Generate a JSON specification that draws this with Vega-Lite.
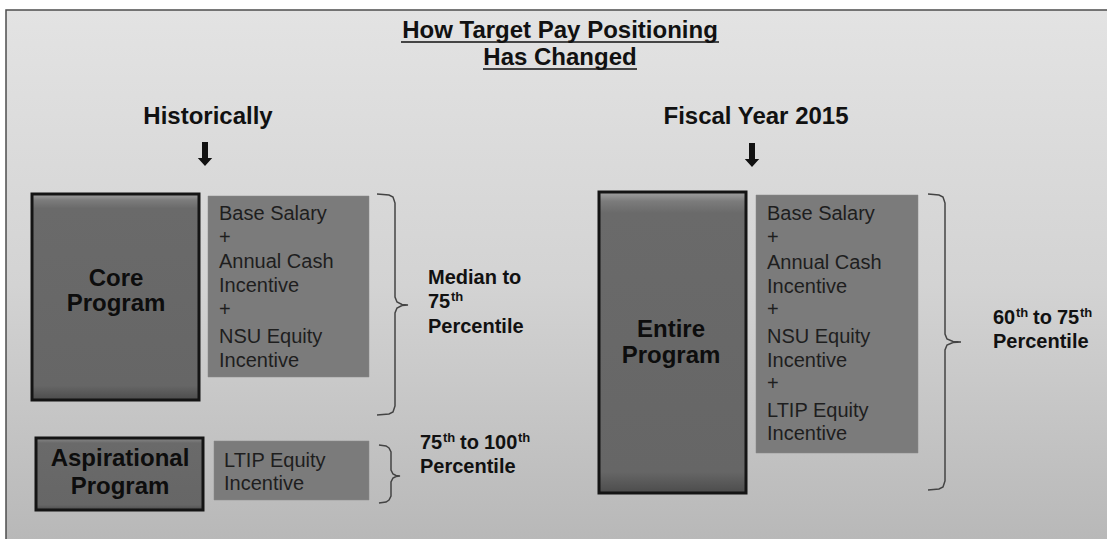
{
  "$schema": "https://vega.github.io/schema/vega-lite/v6.json",
  "width": 1107,
  "height": 539,
  "autosize": {"type": "fit", "contains": "padding"},
  "padding": 0,
  "background": "#ffffff",
  "config": {"view": {"stroke": null}},
  "datasets": {
    "frame": [{"x": 6, "x2": 1130, "y": 10, "y2": 560}],
    "programs": [
      {"name": "Core Program", "x": 32, "x2": 199, "y": 194, "y2": 400},
      {"name": "Entire Program", "x": 599, "x2": 746, "y": 192, "y2": 493},
      {"name": "Aspirational Program", "x": 36, "x2": 203, "y": 438, "y2": 510}
    ],
    "items": [
      {"name": "Core components", "x": 208, "x2": 369, "y": 196, "y2": 377},
      {"name": "Entire components", "x": 756, "x2": 918, "y": 195, "y2": 453},
      {"name": "Aspirational components", "x": 214, "x2": 369, "y": 441, "y2": 500}
    ],
    "underlines": [
      {"line": "How Target Pay Positioning", "x": 401, "x2": 719, "y": 42},
      {"line": "Has Changed", "x": 483, "x2": 637, "y": 69}
    ],
    "arrows": [
      {"column": "Historically", "x": 205, "y": 154},
      {"column": "Fiscal Year 2015", "x": 752, "y": 155}
    ],
    "braces": [
      {"brace": "core", "order": 1, "x": 377, "y": 194},
      {"brace": "core", "order": 2, "x": 389, "y": 195},
      {"brace": "core", "order": 3, "x": 393, "y": 197},
      {"brace": "core", "order": 4, "x": 395, "y": 203},
      {"brace": "core", "order": 5, "x": 395, "y": 297},
      {"brace": "core", "order": 6, "x": 397, "y": 302},
      {"brace": "core", "order": 7, "x": 402, "y": 304.5},
      {"brace": "core", "order": 8, "x": 408, "y": 305},
      {"brace": "core", "order": 9, "x": 402, "y": 305.5},
      {"brace": "core", "order": 10, "x": 397, "y": 308},
      {"brace": "core", "order": 11, "x": 395, "y": 313},
      {"brace": "core", "order": 12, "x": 395, "y": 406},
      {"brace": "core", "order": 13, "x": 393, "y": 412},
      {"brace": "core", "order": 14, "x": 389, "y": 414},
      {"brace": "core", "order": 15, "x": 377, "y": 415},
      {"brace": "asp", "order": 1, "x": 379, "y": 445},
      {"brace": "asp", "order": 2, "x": 386, "y": 446},
      {"brace": "asp", "order": 3, "x": 389, "y": 448},
      {"brace": "asp", "order": 4, "x": 391, "y": 452},
      {"brace": "asp", "order": 5, "x": 391, "y": 470},
      {"brace": "asp", "order": 6, "x": 393, "y": 474},
      {"brace": "asp", "order": 7, "x": 396, "y": 475.5},
      {"brace": "asp", "order": 8, "x": 400, "y": 476},
      {"brace": "asp", "order": 9, "x": 396, "y": 476.5},
      {"brace": "asp", "order": 10, "x": 393, "y": 478},
      {"brace": "asp", "order": 11, "x": 391, "y": 482},
      {"brace": "asp", "order": 12, "x": 391, "y": 496},
      {"brace": "asp", "order": 13, "x": 389, "y": 500},
      {"brace": "asp", "order": 14, "x": 386, "y": 502},
      {"brace": "asp", "order": 15, "x": 379, "y": 503},
      {"brace": "entire", "order": 1, "x": 928, "y": 194},
      {"brace": "entire", "order": 2, "x": 939, "y": 195},
      {"brace": "entire", "order": 3, "x": 943, "y": 197},
      {"brace": "entire", "order": 4, "x": 945, "y": 203},
      {"brace": "entire", "order": 5, "x": 945, "y": 334},
      {"brace": "entire", "order": 6, "x": 947, "y": 339},
      {"brace": "entire", "order": 7, "x": 953, "y": 341.5},
      {"brace": "entire", "order": 8, "x": 961, "y": 342},
      {"brace": "entire", "order": 9, "x": 953, "y": 342.5},
      {"brace": "entire", "order": 10, "x": 947, "y": 345},
      {"brace": "entire", "order": 11, "x": 945, "y": 350},
      {"brace": "entire", "order": 12, "x": 945, "y": 481},
      {"brace": "entire", "order": 13, "x": 943, "y": 487},
      {"brace": "entire", "order": 14, "x": 939, "y": 489},
      {"brace": "entire", "order": 15, "x": 928, "y": 490}
    ],
    "texts": [
      {"role": "title", "text": "How Target Pay Positioning", "x": 560, "y": 38},
      {"role": "title", "text": "Has Changed", "x": 560, "y": 65},
      {"role": "heading", "text": "Historically", "x": 208, "y": 124},
      {"role": "heading", "text": "Fiscal Year 2015", "x": 756, "y": 124},
      {"role": "program", "text": "Core", "x": 116, "y": 286},
      {"role": "program", "text": "Program", "x": 116, "y": 311},
      {"role": "program", "text": "Entire", "x": 671, "y": 337},
      {"role": "program", "text": "Program", "x": 671, "y": 363},
      {"role": "program", "text": "Aspirational", "x": 120, "y": 466},
      {"role": "program", "text": "Program", "x": 120, "y": 494},
      {"role": "item", "text": "Base Salary", "x": 219, "y": 220},
      {"role": "item", "text": "+", "x": 219, "y": 244},
      {"role": "item", "text": "Annual Cash", "x": 219, "y": 268},
      {"role": "item", "text": "Incentive", "x": 219, "y": 292},
      {"role": "item", "text": "+", "x": 219, "y": 316},
      {"role": "item", "text": "NSU Equity", "x": 219, "y": 343},
      {"role": "item", "text": "Incentive", "x": 219, "y": 367},
      {"role": "item", "text": "Base Salary", "x": 767, "y": 220},
      {"role": "item", "text": "+", "x": 767, "y": 244},
      {"role": "item", "text": "Annual Cash", "x": 767, "y": 269},
      {"role": "item", "text": "Incentive", "x": 767, "y": 293},
      {"role": "item", "text": "+", "x": 767, "y": 316},
      {"role": "item", "text": "NSU Equity", "x": 767, "y": 343},
      {"role": "item", "text": "Incentive", "x": 767, "y": 367},
      {"role": "item", "text": "+", "x": 767, "y": 390},
      {"role": "item", "text": "LTIP Equity", "x": 767, "y": 417},
      {"role": "item", "text": "Incentive", "x": 767, "y": 440},
      {"role": "item", "text": "LTIP Equity", "x": 224, "y": 467},
      {"role": "item", "text": "Incentive", "x": 224, "y": 490},
      {"role": "range", "text": "Median to", "x": 428, "y": 284},
      {"role": "range", "text": "75", "x": 428, "y": 308},
      {"role": "sup", "text": "th", "x": 451, "y": 301},
      {"role": "range", "text": "Percentile", "x": 428, "y": 333},
      {"role": "range", "text": "75", "x": 420, "y": 449},
      {"role": "sup", "text": "th", "x": 443, "y": 442},
      {"role": "range", "text": "to", "x": 460, "y": 449},
      {"role": "range", "text": "100", "x": 484, "y": 449},
      {"role": "sup", "text": "th", "x": 518, "y": 442},
      {"role": "range", "text": "Percentile", "x": 420, "y": 473},
      {"role": "range", "text": "60", "x": 993, "y": 324},
      {"role": "sup", "text": "th", "x": 1016, "y": 317},
      {"role": "range", "text": "to", "x": 1033, "y": 324},
      {"role": "range", "text": "75", "x": 1057, "y": 324},
      {"role": "sup", "text": "th", "x": 1080, "y": 317},
      {"role": "range", "text": "Percentile", "x": 993, "y": 348}
    ]
  },
  "layer": [
    {
      "data": {"name": "frame"},
      "mark": {
        "type": "rect",
        "clip": true,
        "fill": {"gradient": "linear", "x1": 0, "y1": 0, "x2": 0, "y2": 1,
          "stops": [{"offset": 0, "color": "#e3e3e3"}, {"offset": 0.5, "color": "#d3d3d3"}, {"offset": 1, "color": "#b6b6b6"}]},
        "stroke": "#4d4d4d",
        "strokeWidth": 1.5
      },
      "encoding": {
        "x": {"field": "x", "type": "quantitative", "scale": {"domain": [0, 1107], "nice": false, "zero": false}, "axis": null},
        "x2": {"field": "x2"},
        "y": {"field": "y", "type": "quantitative", "scale": {"domain": [0, 539], "nice": false, "zero": false, "reverse": true}, "axis": null},
        "y2": {"field": "y2"}
      }
    },
    {
      "data": {"name": "items"},
      "mark": {"type": "rect", "fill": "#7b7b7b", "stroke": "#8a8a8a", "strokeWidth": 1, "strokeOpacity": 0.5},
      "encoding": {
        "x": {"field": "x", "type": "quantitative", "scale": {"domain": [0, 1107], "nice": false, "zero": false}, "axis": null},
        "x2": {"field": "x2"},
        "y": {"field": "y", "type": "quantitative", "scale": {"domain": [0, 539], "nice": false, "zero": false, "reverse": true}, "axis": null},
        "y2": {"field": "y2"}
      }
    },
    {
      "data": {"name": "programs"},
      "mark": {
        "type": "rect",
        "fill": {"gradient": "linear", "x1": 0, "y1": 0, "x2": 0, "y2": 1,
          "stops": [{"offset": 0, "color": "#a2a2a2"}, {"offset": 0.03, "color": "#7c7c7c"}, {"offset": 0.07, "color": "#6a6a6a"}, {"offset": 0.93, "color": "#666666"}, {"offset": 1, "color": "#4c4c4c"}]},
        "stroke": "#141414",
        "strokeWidth": 3
      },
      "encoding": {
        "x": {"field": "x", "type": "quantitative", "scale": {"domain": [0, 1107], "nice": false, "zero": false}, "axis": null},
        "x2": {"field": "x2"},
        "y": {"field": "y", "type": "quantitative", "scale": {"domain": [0, 539], "nice": false, "zero": false, "reverse": true}, "axis": null},
        "y2": {"field": "y2"}
      }
    },
    {
      "data": {"name": "braces"},
      "mark": {"type": "line", "stroke": "#444444", "strokeWidth": 1.5, "interpolate": "linear"},
      "encoding": {
        "x": {"field": "x", "type": "quantitative", "scale": {"domain": [0, 1107], "nice": false, "zero": false}, "axis": null},
        "y": {"field": "y", "type": "quantitative", "scale": {"domain": [0, 539], "nice": false, "zero": false, "reverse": true}, "axis": null},
        "detail": {"field": "brace", "type": "nominal"},
        "order": {"field": "order", "type": "quantitative"}
      }
    },
    {
      "data": {"name": "underlines"},
      "mark": {"type": "rule", "stroke": "#111111", "strokeWidth": 1.6},
      "encoding": {
        "x": {"field": "x", "type": "quantitative", "scale": {"domain": [0, 1107], "nice": false, "zero": false}, "axis": null},
        "x2": {"field": "x2"},
        "y": {"field": "y", "type": "quantitative", "scale": {"domain": [0, 539], "nice": false, "zero": false, "reverse": true}, "axis": null}
      }
    },
    {
      "data": {"name": "arrows"},
      "mark": {
        "type": "point",
        "shape": "M-0.25,-1 L0.25,-1 L0.25,0.33 L0.6,0.33 L0,1 L-0.6,0.33 L-0.25,0.33 Z",
        "size": 576,
        "filled": true,
        "fill": "#111111",
        "strokeWidth": 0,
        "opacity": 1
      },
      "encoding": {
        "x": {"field": "x", "type": "quantitative", "scale": {"domain": [0, 1107], "nice": false, "zero": false}, "axis": null},
        "y": {"field": "y", "type": "quantitative", "scale": {"domain": [0, 539], "nice": false, "zero": false, "reverse": true}, "axis": null}
      }
    },
    {
      "data": {"name": "texts"},
      "transform": [{"filter": "datum.role === 'title'"}],
      "mark": {"type": "text", "font": "Liberation Sans", "fontWeight": "bold", "fontSize": 24, "align": "center", "baseline": "alphabetic", "fill": "#111111"},
      "encoding": {
        "x": {"field": "x", "type": "quantitative", "scale": {"domain": [0, 1107], "nice": false, "zero": false}, "axis": null},
        "y": {"field": "y", "type": "quantitative", "scale": {"domain": [0, 539], "nice": false, "zero": false, "reverse": true}, "axis": null},
        "text": {"field": "text"}
      }
    },
    {
      "data": {"name": "texts"},
      "transform": [{"filter": "datum.role === 'heading'"}],
      "mark": {"type": "text", "font": "Liberation Sans", "fontWeight": "bold", "fontSize": 24, "align": "center", "baseline": "alphabetic", "fill": "#111111"},
      "encoding": {
        "x": {"field": "x", "type": "quantitative", "scale": {"domain": [0, 1107], "nice": false, "zero": false}, "axis": null},
        "y": {"field": "y", "type": "quantitative", "scale": {"domain": [0, 539], "nice": false, "zero": false, "reverse": true}, "axis": null},
        "text": {"field": "text"}
      }
    },
    {
      "data": {"name": "texts"},
      "transform": [{"filter": "datum.role === 'program'"}],
      "mark": {"type": "text", "font": "Liberation Sans", "fontWeight": "bold", "fontSize": 24, "align": "center", "baseline": "alphabetic", "fill": "#0d0d0d"},
      "encoding": {
        "x": {"field": "x", "type": "quantitative", "scale": {"domain": [0, 1107], "nice": false, "zero": false}, "axis": null},
        "y": {"field": "y", "type": "quantitative", "scale": {"domain": [0, 539], "nice": false, "zero": false, "reverse": true}, "axis": null},
        "text": {"field": "text"}
      }
    },
    {
      "data": {"name": "texts"},
      "transform": [{"filter": "datum.role === 'item'"}],
      "mark": {"type": "text", "font": "Liberation Sans", "fontSize": 20, "align": "left", "baseline": "alphabetic", "fill": "#1e1e1e"},
      "encoding": {
        "x": {"field": "x", "type": "quantitative", "scale": {"domain": [0, 1107], "nice": false, "zero": false}, "axis": null},
        "y": {"field": "y", "type": "quantitative", "scale": {"domain": [0, 539], "nice": false, "zero": false, "reverse": true}, "axis": null},
        "text": {"field": "text"}
      }
    },
    {
      "data": {"name": "texts"},
      "transform": [{"filter": "datum.role === 'range'"}],
      "mark": {"type": "text", "font": "Liberation Sans", "fontWeight": "bold", "fontSize": 20, "align": "left", "baseline": "alphabetic", "fill": "#111111"},
      "encoding": {
        "x": {"field": "x", "type": "quantitative", "scale": {"domain": [0, 1107], "nice": false, "zero": false}, "axis": null},
        "y": {"field": "y", "type": "quantitative", "scale": {"domain": [0, 539], "nice": false, "zero": false, "reverse": true}, "axis": null},
        "text": {"field": "text"}
      }
    },
    {
      "data": {"name": "texts"},
      "transform": [{"filter": "datum.role === 'sup'"}],
      "mark": {"type": "text", "font": "Liberation Sans", "fontWeight": "bold", "fontSize": 13, "align": "left", "baseline": "alphabetic", "fill": "#111111"},
      "encoding": {
        "x": {"field": "x", "type": "quantitative", "scale": {"domain": [0, 1107], "nice": false, "zero": false}, "axis": null},
        "y": {"field": "y", "type": "quantitative", "scale": {"domain": [0, 539], "nice": false, "zero": false, "reverse": true}, "axis": null},
        "text": {"field": "text"}
      }
    }
  ]
}
